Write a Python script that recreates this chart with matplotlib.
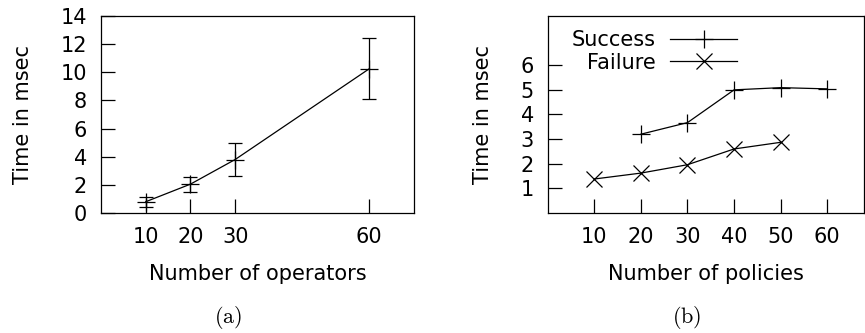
import matplotlib
matplotlib.use("Agg")
import matplotlib.pyplot as plt

plt.rcParams['font.family'] = ['DejaVu Sans']
plt.rcParams['mathtext.fontset'] = 'cm'

# (a) tiempo frente a numero de operadores
operadores = [10, 20, 30, 60]
tiempo_op = [0.8, 2.05, 3.8, 10.25]
err_bajo = [0.45, 1.5, 2.65, 8.1]
err_alto = [1.15, 2.55, 4.95, 12.4]

# (b) tiempo frente a numero de politicas
pol_exito = [20, 30, 40, 50, 60]
tiempo_exito = [3.2, 3.67, 5.0, 5.09, 5.04]
pol_fallo = [10, 20, 30, 40, 50]
tiempo_fallo = [1.38, 1.62, 1.96, 2.6, 2.87]

fig = plt.figure(figsize=(8.65, 3.33), dpi=100)
ax1 = fig.add_axes([0.1168, 0.3604, 0.3618, 0.5916])
ax2 = fig.add_axes([0.6332, 0.3604, 0.3657, 0.5916])

fs = 15
lw = 0.9

# panel (a)
yerr = [[t - b for t, b in zip(tiempo_op, err_bajo)],
        [a - t for t, a in zip(tiempo_op, err_alto)]]
ax1.errorbar(operadores, tiempo_op, yerr=yerr, color='black', lw=lw,
             marker='+', markersize=13, markeredgewidth=lw,
             capsize=5, capthick=lw, elinewidth=lw)
ax1.set_xlim(0, 70)
ax1.set_ylim(0, 14)
ax1.set_xticks(operadores)
ax1.set_yticks(range(0, 15, 2))
ax1.set_ylabel('Time in msec', fontsize=fs, labelpad=20)
ax1.set_xlabel('Number of operators', fontsize=fs, labelpad=12)

# panel (b)
ax2.plot(pol_exito, tiempo_exito, color='black', lw=lw, marker='+',
         markersize=13, markeredgewidth=lw, label='Success')
ax2.plot(pol_fallo, tiempo_fallo, color='black', lw=lw, marker='x',
         markersize=12, markeredgewidth=lw, label='Failure')
ax2.set_xlim(0, 67.9)
ax2.set_ylim(0, 8)
ax2.set_xticks([10, 20, 30, 40, 50, 60])
ax2.set_yticks([1, 2, 3, 4, 5, 6])
ax2.set_ylabel('Time in msec', fontsize=fs, labelpad=20)
ax2.set_xlabel('Number of policies', fontsize=fs, labelpad=12)
ax2.legend(loc='upper left', bbox_to_anchor=(0.05, 0.97), frameon=False,
           markerfirst=False, fontsize=fs, handlelength=3.2,
           handletextpad=0.7, labelspacing=0.12, borderaxespad=0)

for ax in (ax1, ax2):
    ax.tick_params(direction='in', length=10, width=lw, labelsize=fs, pad=10)
    for s in ax.spines.values():
        s.set_linewidth(lw)

fig.text(0.264, 0.03, r'$\mathrm{(a)}$', ha='center', fontsize=16)
fig.text(0.794, 0.03, r'$\mathrm{(b)}$', ha='center', fontsize=16)

fig.savefig('out.png', dpi=100)
